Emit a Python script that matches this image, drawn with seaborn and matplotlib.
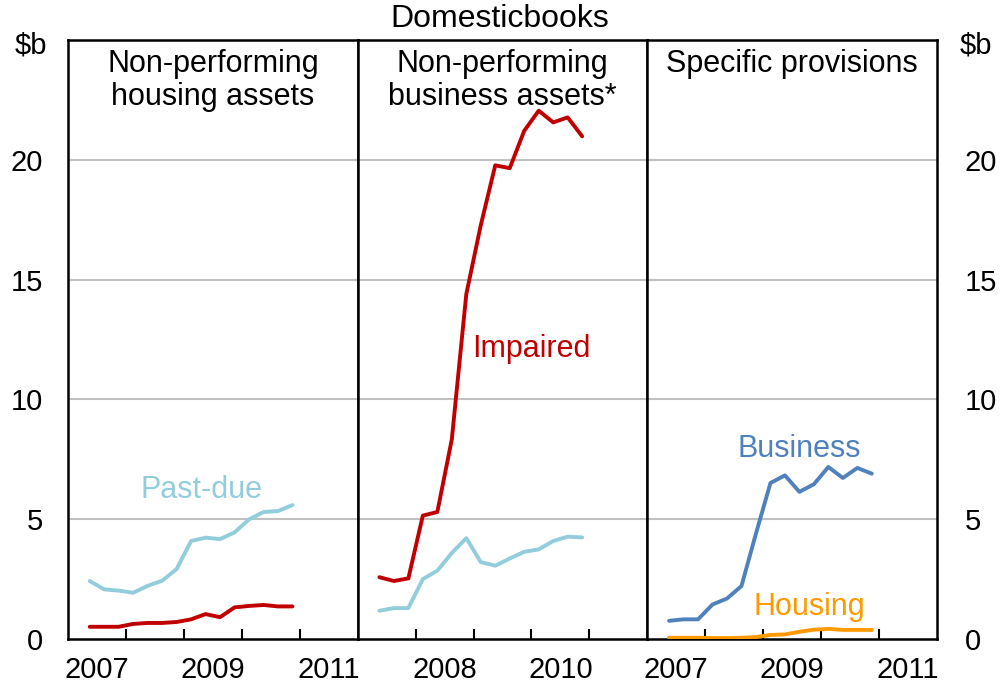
import matplotlib as mpl
mpl.use("Agg")
import matplotlib.pyplot as plt
import numpy as np
import pandas as pd
import seaborn as sns

sns.set_theme(style="white")
plt.rcParams["font.family"] = ["Liberation Sans", "DejaVu Sans"]
plt.rcParams["text.color"] = "black"
plt.rcParams["xtick.color"] = "black"
plt.rcParams["ytick.color"] = "black"

# quarterly positions, Q2 2007 .. Q4 2010 (fractional years)
quarters = [2007.375 + 0.25 * i for i in range(15)]

housing_pastdue = [2.42, 2.07, 2.02, 1.93, 2.22, 2.43, 2.92, 4.09, 4.23, 4.17,
                   4.45, 4.99, 5.30, 5.34, 5.59]
housing_impaired = [0.51, 0.51, 0.51, 0.63, 0.67, 0.67, 0.71, 0.82, 1.04, 0.91,
                    1.32, 1.38, 1.42, 1.36, 1.36]
business_impaired = [2.58, 2.42, 2.53, 5.15, 5.30, 8.33, 14.39, 17.27, 19.77, 19.65,
                     21.21, 22.05, 21.56, 21.77, 20.98]
business_pastdue = [1.18, 1.29, 1.29, 2.50, 2.85, 3.59, 4.21, 3.21, 3.06, 3.36,
                    3.64, 3.74, 4.09, 4.27, 4.24]
prov_business = [0.76, 0.82, 0.82, 1.44, 1.69, 2.21, 4.40, 6.51, 6.83, 6.14,
                 6.46, 7.18, 6.72, 7.14, 6.90]
prov_housing = [0.05, 0.05, 0.05, 0.04, 0.04, 0.05, 0.08, 0.17, 0.19, 0.30,
                0.39, 0.42, 0.38, 0.38, 0.38]

panel_titles = ["Non-performing\nhousing assets",
                "Non-performing\nbusiness assets*",
                "Specific provisions"]
year_labels = [["2007", "2009", "2011"], ["2008", "2010"], ["2007", "2009", "2011"]]
yticks = [0, 5, 10, 15, 20]

RED = "#C00000"
LBLUE = "#92CDDC"
BLUE = "#4F81BD"
ORANGE = "#FF9900"

panels = [
    [(housing_pastdue, LBLUE), (housing_impaired, RED)],
    [(business_pastdue, LBLUE), (business_impaired, RED)],
    [(prov_housing, ORANGE), (prov_business, BLUE)],
]

FS = 22

fig = plt.figure(figsize=(10, 6.93), dpi=100)
left, right = 0.068, 0.937
bottom, top = 1 - 639 / 693, 1 - 40 / 693
w = (right - left) / 3
axes = [fig.add_axes([left + i * w, bottom, w, top - bottom]) for i in range(3)]

for i, ax in enumerate(axes):
    for vals, col in panels[i]:
        df = pd.DataFrame({"x": quarters, "y": vals})
        sns.lineplot(data=df, x="x", y="y", color=col, linewidth=2.8, ax=ax,
                     legend=False, zorder=3)
    ax.set_xlim(2007, 2012)
    ax.set_ylim(0, 25)
    for yv in [5, 10, 15, 20]:
        ax.axhline(yv, color="#C0C0C0", linewidth=1.5, zorder=1)
    ax.set_xticks(range(2008, 2012))
    ax.set_xticklabels([])
    labs = year_labels[i]
    ax.set_xticks([2007.5 + (int(l) - 2007) for l in labs], minor=True)
    ax.set_xticklabels(labs, minor=True)
    ax.tick_params(axis="x", which="major", direction="in", length=7, width=1.5,
                   bottom=True)
    ax.tick_params(axis="x", which="minor", length=0, pad=12, labelsize=21)
    ax.set_yticks(yticks)
    ax.tick_params(axis="y", length=0, labelsize=21, pad=18)
    if i == 0:
        ax.tick_params(axis="y", labelleft=True, labelright=False)
    elif i == 2:
        ax.tick_params(axis="y", labelleft=False, labelright=True, pad=20)
    else:
        ax.tick_params(axis="y", labelleft=False, labelright=False)
    ax.set_xlabel("")
    ax.set_ylabel("")
    for s in ax.spines.values():
        s.set_color("black")
        s.set_linewidth(1.8)
    ax.text(0.5, 0.985, panel_titles[i], transform=ax.transAxes, ha="center",
            va="top", fontsize=FS, linespacing=1.15)

axes[0].text(2009.3, 6.2, "Past-due", color=LBLUE, fontsize=FS, ha="center", va="center")
axes[1].text(2010.0, 12.1, "Impaired", color=RED, fontsize=FS, ha="center", va="center")
axes[2].text(2009.62, 7.95, "Business", color=BLUE, fontsize=FS, ha="center", va="center")
axes[2].text(2009.8, 1.35, "Housing", color=ORANGE, fontsize=FS, ha="center", va="center")

fig.text(0.031, 1 - 46 / 693, "$b", fontsize=21, ha="center", va="center")
fig.text(0.976, 1 - 46 / 693, "$b", fontsize=21, ha="center", va="center")
fig.text(0.5, 1 - 19 / 693, "Domesticbooks", fontsize=23, ha="center", va="center")

plt.savefig("out.png", dpi=100)
